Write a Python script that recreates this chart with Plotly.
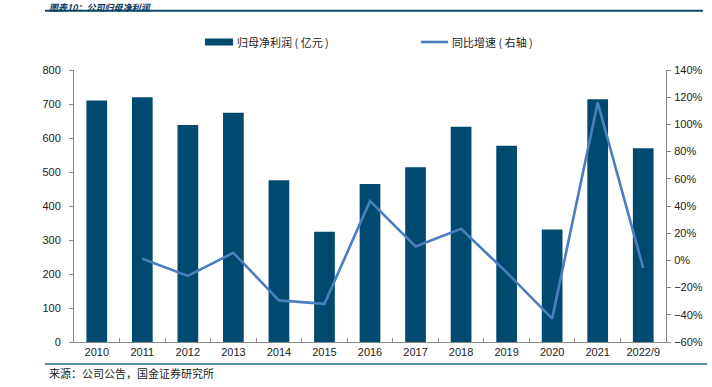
import plotly.graph_objects as go

years = ["2010", "2011", "2012", "2013", "2014", "2015", "2016", "2017",
         "2018", "2019", "2020", "2021", "2022/9"]
profit = [710, 720, 638, 674, 476, 324, 465, 514, 633, 577, 331, 714, 570]
growth = [None, 1.2, -11.4, 5.6, -29.4, -31.9, 43.6, 10.3, 23.2, -8.8, -42.8, 116.0, -5.6]

W, H = 712, 387
L, R, T, B = 74, 46, 70, 45
PW, PH = W - L - R, H - T - B


def px(x):
    return (x - L) / PW


def py(y):
    return (H - B - y) / PH


BAR = "#004A6F"
LINE = "#4A7EBF"

fig = go.Figure()
fig.add_trace(go.Bar(x=years, y=profit, name="归母净利润（亿元）",
                     marker=dict(color=BAR, line=dict(width=0)), showlegend=False))
fig.add_trace(go.Scatter(x=years, y=growth, name="同比增速（右轴）", mode="lines",
                         line=dict(color=LINE, width=2.6), yaxis="y2",
                         connectgaps=False, showlegend=False))

tickfont = dict(family="Liberation Sans, Arial", size=11, color="#222")
legfont = dict(family="Noto Sans CJK SC", size=11, color="#222")

fig.update_layout(
    width=W, height=H,
    margin=dict(l=L, r=R, t=T, b=B, autoexpand=False),
    plot_bgcolor="white", paper_bgcolor="white",
    bargap=0.545,
    xaxis=dict(type="category", tickson="boundaries", ticks="inside", ticklen=4,
               tickcolor="#888", showline=True, linecolor="#888", linewidth=1,
               tickfont=tickfont, showgrid=False, fixedrange=True),
    yaxis=dict(range=[0, 800], dtick=100, ticks="outside", ticklen=4, tickcolor="#888",
               showline=True, linecolor="#888", linewidth=1, showgrid=False,
               zeroline=False, tickfont=tickfont, ticklabelstandoff=6),
    yaxis2=dict(range=[-60, 140], dtick=20, ticksuffix="%", overlaying="y", side="right",
                ticks="outside", ticklen=4, tickcolor="#888", showline=True,
                linecolor="#888", linewidth=1, showgrid=False, zeroline=False,
                tickfont=tickfont, ticklabelstandoff=1),
    showlegend=False,
)

shapes = [
    dict(type="line", xref="paper", yref="paper", x0=px(45), x1=px(703),
         y0=py(10.7), y1=py(10.7), line=dict(color="#0B4A6E", width=2)),
    dict(type="line", xref="paper", yref="paper", x0=px(45), x1=px(707),
         y0=py(364), y1=py(364), line=dict(color="#5B8FAE", width=2)),
    # legend swatches
    dict(type="rect", xref="paper", yref="paper", x0=px(205), x1=px(233),
         y0=py(45.5), y1=py(38.5), fillcolor=BAR, line=dict(width=0)),
    dict(type="line", xref="paper", yref="paper", x0=px(421), x1=px(448),
         y0=py(42), y1=py(42), line=dict(color=LINE, width=2.6)),
]
fig.update_layout(shapes=shapes)

fig.add_annotation(text="归母净利润 ( 亿元 )", xref="paper", yref="paper",
                   x=px(235), y=py(42), xanchor="left", yanchor="middle", showarrow=False,
                   font=legfont)
fig.add_annotation(text="同比增速 ( 右轴 )", xref="paper", yref="paper",
                   x=px(450), y=py(42), xanchor="left", yanchor="middle", showarrow=False,
                   font=legfont)
fig.add_annotation(text="<i><b>图表10：公司归母净利润</b></i>", xref="paper", yref="paper",
                   x=px(48), y=py(0), xanchor="left", yanchor="top", showarrow=False,
                   borderpad=0,
                   font=dict(family="Noto Sans CJK SC", size=9, color="#0B3A5A"))
fig.add_annotation(text="来源：公司公告，国金证券研究所", xref="paper", yref="paper",
                   x=px(47), y=py(373), xanchor="left", yanchor="middle", showarrow=False,
                   font=dict(family="Noto Sans CJK SC", size=11, color="#222"))

fig.write_html("out.html", config={"displayModeBar": False},
               post_script="document.body.style.margin='0px';")
